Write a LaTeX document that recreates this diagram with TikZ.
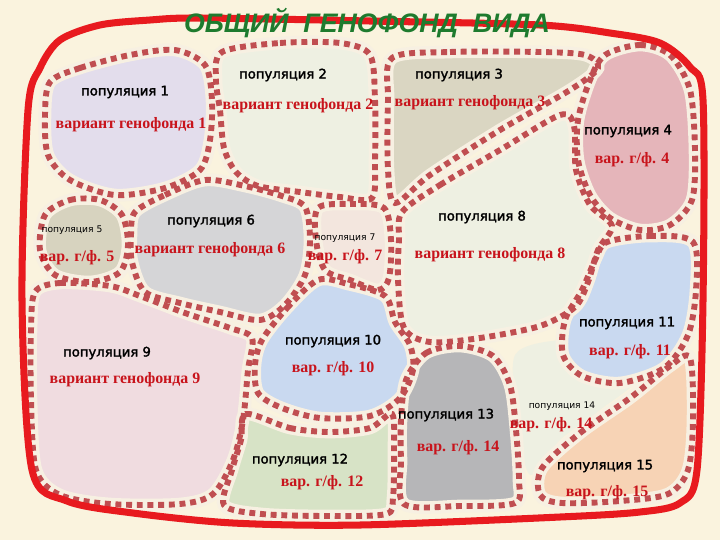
\documentclass[tikz,border=0pt]{standalone}
\usepackage{fontspec}
\usepackage{xcolor}
\usepackage{tikz}
\setmainfont{Liberation Serif}
\setsansfont{DejaVu Sans}
\newfontfamily\titlefont{Liberation Sans}
\newfontfamily\lblfont{DejaVu Sans}[FakeBold=2]

\definecolor{bgcream}{HTML}{FAF3DE}
\definecolor{halocream}{HTML}{F7F0E2}
\definecolor{dotred}{HTML}{C04E51}
\definecolor{borderred}{HTML}{E81A1F}
\definecolor{titlegreen}{HTML}{1E7B2E}
\definecolor{varred}{HTML}{C8141C}
\definecolor{cpa}{HTML}{E3DDEC}
\definecolor{cpb}{HTML}{EEF0E2}
\definecolor{cpc}{HTML}{DAD6C2}
\definecolor{cpd}{HTML}{E5B5BA}
\definecolor{cpe}{HTML}{D7D3BF}
\definecolor{cpf}{HTML}{D5D5D7}
\definecolor{cpg}{HTML}{F3E6DE}
\definecolor{cph}{HTML}{EEF0E2}
\definecolor{cpi}{HTML}{F0DCE0}
\definecolor{cpj}{HTML}{C9D9F0}
\definecolor{cpk}{HTML}{C9D9F0}
\definecolor{cpl}{HTML}{D7E3C6}
\definecolor{cpm}{HTML}{B6B6B8}
\definecolor{cpn}{HTML}{EEF0E2}
\definecolor{cpo}{HTML}{F7D3B5}

\tikzset{
  pophalo/.style={draw=halocream, line width=9pt},
  popline/.style={draw=dotred, line width=4.2pt, dash pattern=on 4.2pt off 3.4pt},
  popname/.style={font=\lblfont\fontsize{9.4}{12}\selectfont, text=black, inner sep=1pt},
  popsmall/.style={font=\sffamily\fontsize{6.5}{8}\selectfont, text=black, inner sep=1pt},
  popvar/.style={font=\bfseries\fontsize{11.3}{13}\selectfont, text=varred, inner sep=1pt},
}

\begin{document}
\begin{tikzpicture}[x=0.025cm, y=-0.025cm]
		\useasboundingbox (0,0) rectangle (720,540);
		\fill[bgcream] (0,0) rectangle (720,540);

		% population areas, filled first
		\fill[cpn, save path=\ppn] plot[smooth cycle] coordinates {(515,355) (560,340) (600,345) (640,375) (600,410) (560,440) (530,475) (518,420)};
		\fill[cpa, save path=\ppa] plot[smooth cycle] coordinates {(50,82) (80,68) (130,55) (175,50) (205,65) (212,100) (210,140) (200,170) (165,188) (115,195) (70,180) (48,155) (45,115)};
		\fill[cpb, save path=\ppb] plot[smooth cycle] coordinates {(222,52) (280,43) (340,43) (370,55) (375,100) (375,160) (372,198) (340,197) (300,192) (258,186) (236,172) (224,148) (220,110) (216,80)};
		\fill[cpc, save path=\ppc] plot[smooth cycle] coordinates {(392,58) (450,52) (540,52) (585,55) (598,68) (570,90) (500,130) (430,175) (395,203) (388,170) (388,100)};
		\fill[cpd, save path=\ppd] plot[smooth cycle] coordinates {(605,55) (640,45) (670,55) (690,90) (695,150) (692,200) (670,225) (640,230) (610,218) (590,195) (578,160) (578,120) (590,80)};
		\fill[cpe, save path=\ppe] plot[smooth cycle] coordinates {(45,215) (70,200) (100,200) (122,215) (128,245) (120,272) (90,282) (55,275) (40,250)};
		\fill[cpf, save path=\ppf] plot[smooth cycle] coordinates {(135,212) (165,195) (205,180) (245,186) (282,196) (305,207) (310,240) (305,275) (285,305) (260,320) (220,312) (180,303) (145,292) (132,262) (131,235)};
		\fill[cpg, save path=\ppg] plot[smooth cycle] coordinates {(318,208) (350,204) (384,208) (391,240) (389,278) (378,290) (350,280) (325,270) (316,240)};
		\fill[cph, save path=\pph] plot[smooth cycle] coordinates {(402,212) (440,185) (500,150) (560,115) (574,126) (576,170) (590,205) (612,226) (598,250) (588,282) (575,307) (540,326) (480,338) (430,342) (404,328) (398,280) (399,240)};
		\fill[cpi, save path=\ppi] plot[smooth cycle] coordinates {(35,292) (60,283) (110,286) (140,296) (185,313) (230,328) (252,338) (248,370) (243,420) (233,460) (213,494) (180,504) (110,504) (60,495) (36,470) (31,400) (31,330)};
		\fill[cpj, save path=\ppj] plot[smooth cycle] coordinates {(262,340) (287,308) (318,280) (348,284) (385,296) (395,322) (410,345) (413,370) (400,398) (370,416) (320,418) (282,408) (258,393) (255,365)};
		\fill[cpk, save path=\ppk] plot[smooth cycle] coordinates {(607,242) (650,236) (693,242) (696,290) (688,335) (664,368) (620,383) (582,376) (563,355) (565,320) (582,290) (596,258)};
		\fill[cpl, save path=\ppl] plot[smooth cycle] coordinates {(246,414) (290,428) (330,432) (370,428) (392,414) (394,450) (393,498) (386,514) (330,516) (262,514) (224,505) (232,470) (241,440)};
		\fill[cpm, save path=\ppm] plot[smooth cycle] coordinates {(406,380) (426,353) (460,346) (493,356) (510,385) (516,430) (519,480) (515,503) (460,506) (404,504) (401,460) (401,420)};
		\fill[cpo, save path=\ppo] plot[smooth cycle] coordinates {(542,468) (580,433) (630,398) (670,366) (690,358) (693,420) (688,470) (668,494) (620,501) (562,503) (540,495)};

		% cream strips, then square dots
		\foreach \p in {a,b,c,d,e,f,g,h,i,j,k,l,m,o} {
			\edef\cur{\noexpand\path[pophalo, use path=\expandafter\noexpand\csname pp\p\endcsname];}\cur
		}
		\foreach \p in {a,b,c,d,e,f,g,h,i,j,k,l,m,o} {
			\edef\cur{\noexpand\path[popline, use path=\expandafter\noexpand\csname pp\p\endcsname];}\cur
		}

		% species border
		\draw[borderred, line width=5pt] plot[smooth cycle, tension=0.5] coordinates {(150,20) (200,18) (370,21) (540,25) (610,33) (660,43) (690,67) (703,100) (703,300) (697,470) (680,503) (640,512) (560,517) (360,525) (233,523) (133,513) (67,501) (32,470) (22,300) (28,110) (40,68) (60,40) (100,25)};
		\node[font=\titlefont\bfseries\itshape\fontsize{19}{21}\selectfont, text=titlegreen, inner sep=0pt] (title) at (367,23) {ОБЩИЙ\ \ ГЕНОФОНД\ \ ВИДА};

		% labels
		\node[popname] (n1) at (125,92) {популяция 1};
		\node[popvar] (v1) at (131,125) {вариант генофонда 1};
		\node[popname] (n2) at (283,75) {популяция 2};
		\node[popvar] (v2) at (298,106) {вариант генофонда 2};
		\node[popname] (n3) at (459,75) {популяция 3};
		\node[popvar] (v3) at (470,103) {вариант генофонда 3};
		\node[popname] (n4) at (628,131) {популяция 4};
		\node[popvar] (v4) at (632,160) {вар. г/ф. 4};
		\node[popsmall] (n5) at (72,230) {популяция 5};
		\node[popvar] (v5) at (77,258) {вар. г/ф. 5};
		\node[popname] (n6) at (211,221) {популяция 6};
		\node[popvar] (v6) at (210,250) {вариант генофонда 6};
		\node[popsmall] (n7) at (345,238) {популяция 7};
		\node[popvar] (v7) at (345,257) {вар. г/ф. 7};
		\node[popname] (n8) at (482,217) {популяция 8};
		\node[popvar] (v8) at (490,255) {вариант генофонда 8};
		\node[popname] (n9) at (107,353) {популяция 9};
		\node[popvar] (v9) at (125,380) {вариант генофонда 9};
		\node[popname] (n10) at (333,341) {популяция 10};
		\node[popvar] (v10) at (333,369) {вар. г/ф. 10};
		\node[popname] (n11) at (627,323) {популяция 11};
		\node[popvar] (v11) at (630,352) {вар. г/ф. 11};
		\node[popname] (n12) at (300,460) {популяция 12};
		\node[popvar] (v12) at (322,483) {вар. г/ф. 12};
		\node[popname] (n13) at (446,415) {популяция 13};
		\node[popvar] (v13) at (458,448) {вар. г/ф. 14};
		\node[popsmall] (n14) at (562,406) {популяция 14};
		\node[popvar] (v14) at (551,425) {вар. г/ф. 14};
		\node[popname] (n15) at (605,466) {популяция 15};
		\node[popvar] (v15) at (607,493) {вар. г/ф. 15};
	\end{tikzpicture}
\end{document}
